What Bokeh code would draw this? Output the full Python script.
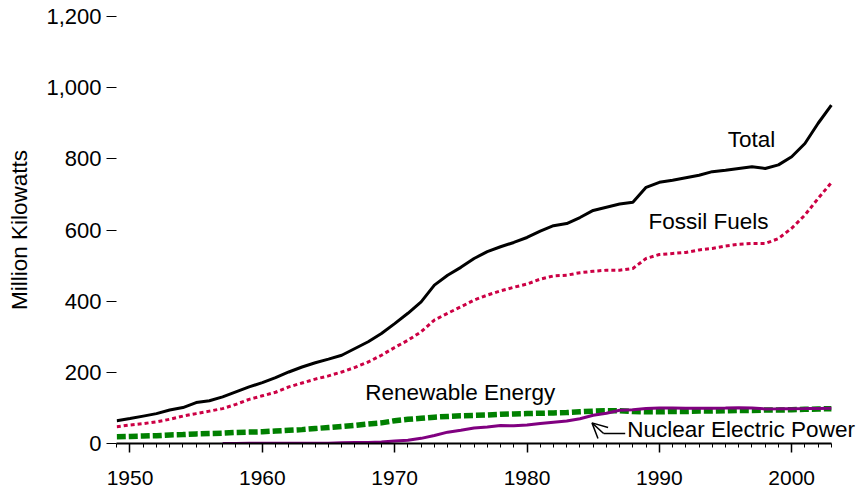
from bokeh.plotting import figure
from bokeh.models import (Range1d, SingleIntervalTicker, FixedTicker, NumeralTickFormatter,
                          Label, Arrow, OpenHead)
from bokeh.embed import file_html
from bokeh.resources import INLINE

# ---------------- data ----------------
years = list(range(1949, 2004))
total = [64, 70, 77, 84, 94, 101, 115, 120, 131, 145,
         159, 171, 185, 201, 215, 227, 237, 248, 267, 286,
         309, 337, 366, 398, 445, 473, 495, 520, 539, 553,
         565, 579, 597, 612, 618, 635, 655, 664, 673, 678,
         720, 734, 740, 747, 754, 764, 768, 773, 778, 773,
         783, 806, 843, 900, 951]
fossil = [47, 52, 56, 61, 68, 77, 84, 91, 98, 110,
          124, 134, 144, 159, 170, 181, 190, 201, 214, 229,
          248, 270, 290, 314, 347, 366, 384, 403, 417, 429,
          439, 448, 462, 471, 473, 480, 484, 487, 487, 492,
          520, 531, 534, 537, 544, 548, 555, 560, 562, 562,
          576, 605, 642, 689, 733]
renewable = [19, 20, 21, 22, 24, 25, 27, 28, 29, 31,
             32, 33, 35, 37, 39, 42, 45, 48, 51, 55,
             58, 64, 68, 71, 74, 76, 78, 79, 80, 82,
             83, 84, 85, 86, 87, 89, 91, 92, 92, 90,
             89, 89, 90, 90, 91, 91, 92, 93, 93, 94,
             94, 95, 96, 97, 98]
nuclear_years = list(range(1957, 2004))
nuclear = [0.0, 0.0, 0.4, 0.4, 0.4, 0.7, 0.8, 0.8, 0.8, 1.9,
           2.7, 2.7, 4.4, 7.0, 9.0, 14.5, 22.7, 31.9, 37.3, 43.8,
           46.3, 50.8, 49.7, 51.8, 56.0, 60.0, 63.0, 69.7, 79.4, 85.2,
           93.6, 94.7, 98.2, 99.6, 99.6, 99.0, 99.0, 99.1, 99.5, 100.8,
           99.7, 97.1, 97.4, 97.9, 98.2, 98.7, 99.2]
y_ticks = [0, 200, 400, 600, 800, 1000, 1200]

# annotation texts and their anchor positions (data units)
labels = [
    ("Total", 1996.96, 853, "center"),
    ("Fossil Fuels", 1993.72, 625, "center"),
    ("Renewable Energy", 1974.96, 144, "center"),
    ("Nuclear Electric Power", 1987.58, 38, "left"),
]
arrow_tip = (1984.91, 58)
arrow_elbow = (1985.79, 28)
arrow_tail = (1987.42, 28)

FONT = "Liberation Sans"

p = figure(width=860, height=487, output_backend="svg", toolbar_location=None,
           x_range=Range1d(1948.98, 2005.2), y_range=Range1d(0, 1200),
           min_border_left=116, min_border_right=0, min_border_top=16, min_border_bottom=44)
p.outline_line_color = None
p.xgrid.visible = False
p.ygrid.visible = False
p.background_fill_color = "white"
p.border_fill_color = "white"

# lines
p.line(years, renewable, line_color="#008000", line_width=5.5, line_dash="9 3")
p.line(nuclear_years, nuclear, line_color="#800080", line_width=3)
p.line(years, fossil, line_color="#CC0044", line_width=3, line_dash="4 3")
p.line(years, total, line_color="black", line_width=3)

# x axis
xa = p.xaxis[0]
xa.ticker = SingleIntervalTicker(interval=10, num_minor_ticks=10)
xa.bounds = (years[0], years[-1])
xa.axis_line_width = 2
xa.axis_line_color = "black"
xa.major_tick_in = 0
xa.major_tick_out = 9
xa.minor_tick_in = 0
xa.minor_tick_out = 4
xa.major_tick_line_width = 1.5
xa.minor_tick_line_width = 1
xa.major_label_standoff = 18
xa.major_label_text_baseline = "middle"
xa.major_label_text_font = FONT
xa.major_label_text_font_size = "21px"
xa.major_label_text_color = "black"

# y axis
ya = p.yaxis[0]
ya.ticker = FixedTicker(ticks=y_ticks)
ya.formatter = NumeralTickFormatter(format="0,0")
ya.axis_line_color = None
ya.major_tick_in = 0
ya.major_tick_out = 10
ya.minor_tick_line_color = None
ya.major_tick_line_width = 1.2
ya.major_label_standoff = 5
ya.major_label_text_font = FONT
ya.major_label_text_font_size = "22px"
ya.major_label_text_color = "black"
ya.axis_label = "Million Kilowatts"
ya.axis_label_text_font = FONT
ya.axis_label_text_font_size = "22.5px"
ya.axis_label_text_font_style = "normal"
ya.axis_label_text_color = "black"
ya.axis_label_standoff = 11

for txt, lx, ly, align in labels:
    p.add_layout(Label(x=lx, y=ly, text=txt, text_font=FONT, text_font_size="22.5px",
                       text_align=align, text_baseline="middle", text_color="black"))

p.add_layout(Arrow(end=OpenHead(size=15, line_width=1.5, line_color="black"),
                   x_start=arrow_elbow[0], y_start=arrow_elbow[1],
                   x_end=arrow_tip[0], y_end=arrow_tip[1],
                   line_width=1.5, line_color="black"))
p.add_layout(Arrow(end=None, x_start=arrow_tail[0], y_start=arrow_tail[1],
                   x_end=arrow_elbow[0], y_end=arrow_elbow[1],
                   line_width=1.5, line_color="black"))

open("out.html", "w").write(file_html(p, INLINE))
